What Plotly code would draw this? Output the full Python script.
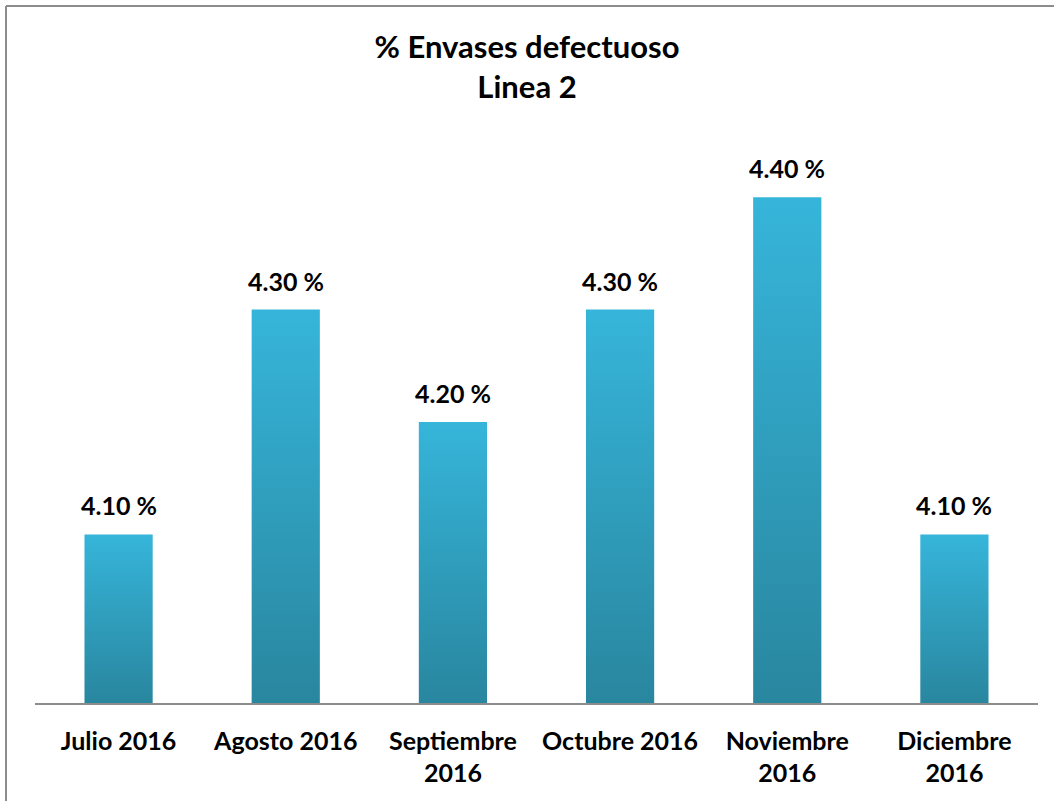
import plotly.graph_objects as go

categories = ["Julio 2016", "Agosto 2016", "Septiembre<br>2016", "Octubre 2016", "Noviembre<br>2016", "Diciembre<br>2016"]
values = [4.10, 4.30, 4.20, 4.30, 4.40, 4.10]
value_labels = ["4.10 %", "4.30 %", "4.20 %", "4.30 %", "4.40 %", "4.10 %"]

Y_MIN, Y_MAX = 3.95, 4.45
HALF_W = 0.204
FONT = "Lato"
TOP_COLOR = "#36B5DA"
BOT_COLOR = "#29869F"

W, H = 1054, 801
ML, MR, MT, MB = 35, 16, 141, 98

fig = go.Figure()
for i, v in enumerate(values):
    fig.add_trace(go.Scatter(
        x=[i - HALF_W, i + HALF_W, i + HALF_W, i - HALF_W, i - HALF_W],
        y=[Y_MIN, Y_MIN, v, v, Y_MIN],
        mode="lines", line=dict(width=0), fill="toself",
        fillgradient=dict(type="vertical", start=Y_MIN, stop=v,
                          colorscale=[[0, BOT_COLOR], [1, TOP_COLOR]]),
        hoverinfo="skip", showlegend=False,
    ))

for i, (v, t) in enumerate(zip(values, value_labels)):
    fig.add_annotation(x=i, y=v, text=f"<b>{t}</b>", showarrow=False,
                       yanchor="bottom", yshift=12,
                       font=dict(family=FONT, size=25, color="#000000"))

pw = W - ML - MR
ph = H - MT - MB
bx = (6 - ML) / pw
by = 1 + (MT - 6) / ph

fig.update_layout(
    width=W, height=H,
    margin=dict(l=ML, r=MR, t=MT, b=MB),
    paper_bgcolor="white", plot_bgcolor="white",
    title=dict(text="<b>% Envases defectuoso<br>Linea 2</b>", x=0.5, xanchor="center",
               y=1 - 58 / H, yanchor="top", pad=dict(t=0),
               font=dict(family=FONT, size=31, color="#000000")),
    xaxis=dict(range=[-0.5, len(categories) - 0.5], tickmode="array",
               tickvals=list(range(len(categories))),
               ticktext=[f"<b>{c}</b>" for c in categories],
               showgrid=False, zeroline=False, showline=True,
               linecolor="#8C8C8C", linewidth=1.5,
               ticks="outside", ticklen=15, tickcolor="rgba(0,0,0,0)",
               tickfont=dict(family=FONT, size=25, color="#000000")),
    yaxis=dict(range=[Y_MIN, Y_MAX], visible=False),
    shapes=[
        dict(type="line", xref="paper", yref="paper",
             x0=bx, x1=1.2, y0=by, y1=by,
             line=dict(color="#8C8C8C", width=2)),
        dict(type="line", xref="paper", yref="paper",
             x0=bx, x1=bx, y0=by, y1=-0.3,
             line=dict(color="#8C8C8C", width=2)),
    ],
)

fig.write_html("out.html", config={"displayModeBar": False},
               post_script="document.body.style.margin='0';")
